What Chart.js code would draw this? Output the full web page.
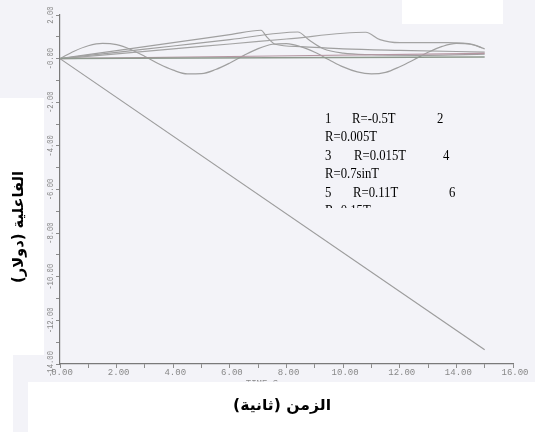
<!DOCTYPE html>
<html><head><meta charset="utf-8">
<script src="https://cdn.jsdelivr.net/npm/chart.js@4/dist/chart.umd.min.js"></script>
<style>html,body{margin:0;padding:0;background:#fff}canvas{display:block}</style>
</head><body><canvas id="c" width="535" height="432"></canvas>
<script>
// ---- tick labels ----
const xTickValues = [0, 2, 4, 6, 8, 10, 12, 14, 16];
const xTickLabels = ["0.00", "2.00", "4.00", "6.00", "8.00", "10.00", "12.00", "14.00", "16.00"];
const yTickValues = [2, 0, -2, -4, -6, -8, -10, -12, -14];
const yTickLabels = ["2.00", "-0.00", "-2.00", "-4.00", "-6.00", "-8.00", "-10.00", "-12.00", "-14.00"];

// ---- series (time T, value R) ----
const t1 = [0, 15];
const r1 = [0, -13.35];

const tSin = [0, 0.5, 1, 1.5, 2, 2.5, 3, 3.5, 4, 4.5, 5, 5.5, 6, 6.5, 7, 7.5, 8, 8.5, 9, 9.5, 10, 10.5, 11, 11.5, 12, 12.5, 13, 13.5, 14, 14.5, 15];
const rSin = [0, 0.34, 0.59, 0.70, 0.64, 0.42, 0.10, -0.25, -0.53, -0.70, -0.69, -0.50, -0.20, 0.15, 0.46, 0.66, 0.69, 0.55, 0.29, -0.05, -0.38, -0.61, -0.70, -0.63, -0.37, -0.05, 0.29, 0.56, 0.70, 0.66, 0.45];

const tA = [0, 2, 4, 6, 7.1, 7.3, 7.6, 8.5, 10, 12, 15];
const rA = [0, 0.37, 0.73, 1.10, 1.30, 1.00, 0.66, 0.55, 0.45, 0.38, 0.30];

const tB = [0, 2, 4, 6, 8.4, 8.8, 9.3, 10, 11, 13, 15];
const rB = [0, 0.29, 0.58, 0.87, 1.22, 0.85, 0.45, 0.25, 0.18, 0.15, 0.20];

const tC = [0, 2, 4, 6, 8, 10.8, 11.3, 12.0, 13.7, 14.6, 14.9];
const rC = [0, 0.22, 0.45, 0.67, 0.90, 1.21, 0.87, 0.73, 0.73, 0.64, 0.50];

const tD = [0, 15];
const rD = [0, 0.08];

const tE = [0, 15];
const rE = [0, 0.24];

// ---- legend text ----
const legendLines = [
  [["1", 325], ["R=-0.5T", 352], ["2", 437]],
  [["R=0.005T", 325]],
  [["3", 325], ["R=0.015T", 354], ["4", 443]],
  [["R=0.7sinT", 325]],
  [["5", 325], ["R=0.11T", 353], ["6", 449]],
  [["R=0.15T", 325]]
];
const xTitle = "الزمن (ثانية)";
const yTitle = "الفاعلية (دولار)";

function pts(t, r) { return t.map((v, i) => ({ x: v, y: r[i] })); }

const lineStyle = (color, w) => ({ borderColor: color, borderWidth: w, pointRadius: 0, fill: false, tension: 0.35, cubicInterpolationMode: 'monotone' });

const decor = {
  id: 'decor',
  beforeDraw(chart) {
    const ctx = chart.ctx;
    ctx.save();
    ctx.fillStyle = '#f3f3f8';
    ctx.fillRect(0, 0, 535, 432);
    ctx.fillStyle = '#ffffff';
    ctx.fillRect(0, 98, 44, 257);
    ctx.fillRect(0, 355, 13, 77);
    ctx.fillRect(28, 382, 507, 50);
    ctx.fillRect(402, 0, 101, 24);
    ctx.restore();
  },
  afterDraw(chart) {
    const ctx = chart.ctx;
    const xs = chart.scales.x, ys = chart.scales.y;
    ctx.save();
    // "TIME S" partly hidden
    ctx.save();
    ctx.beginPath(); ctx.rect(200, 370, 120, 11.5); ctx.clip();
    ctx.fillStyle = '#8a8a8a';
    ctx.font = '9px "Liberation Mono"';
    ctx.textAlign = 'center'; ctx.textBaseline = 'middle';
    ctx.fillText('TIME S', 262, 384);
    ctx.restore();
    // x tick labels
    ctx.fillStyle = '#888888';
    ctx.font = '9px "Liberation Mono"';
    ctx.textAlign = 'center'; ctx.textBaseline = 'middle';
    xTickValues.forEach((v, i) => ctx.fillText(xTickLabels[i], xs.getPixelForValue(v) + 2, 373));
    // y tick labels rotated
    yTickValues.forEach((v, i) => {
      ctx.save();
      ctx.translate(51, ys.getPixelForValue(v));
      ctx.rotate(-Math.PI / 2);
      ctx.scale(0.8, 1);
      ctx.fillText(yTickLabels[i], 0, 0);
      ctx.restore();
    });
    // legend text
    ctx.fillStyle = '#000';
    ctx.font = '15px "Liberation Serif"';
    ctx.textAlign = 'left'; ctx.textBaseline = 'alphabetic';
    const sx = 52 / ctx.measureText("R=0.005T").width;
    legendLines.forEach((line, li) => {
      const base = 123 + li * 18.4;
      ctx.save();
      if (li === 5) { ctx.beginPath(); ctx.rect(300, 190, 200, 18); ctx.clip(); }
      line.forEach(([s, x]) => {
        ctx.save(); ctx.translate(x, base); ctx.scale(sx, 1); ctx.fillText(s, 0, 0); ctx.restore();
      });
      ctx.restore();
    });
    // axis titles
    ctx.font = 'bold 15px "DejaVu Sans"';
    ctx.textAlign = 'center'; ctx.textBaseline = 'middle';
    ctx.save();
    const wx = ctx.measureText(xTitle).width;
    ctx.translate(282, 406); ctx.scale(98 / wx, 1);
    ctx.fillText(xTitle, 0, 0);
    ctx.restore();
    ctx.save();
    const wy = ctx.measureText(yTitle).width;
    ctx.translate(19, 227); ctx.rotate(-Math.PI / 2); ctx.scale(112 / wy, 1);
    ctx.fillText(yTitle, 0, 0);
    ctx.restore();
    ctx.restore();
  }
};

new Chart(document.getElementById('c'), {
  type: 'line',
  data: {
    datasets: [
      { data: pts(t1, r1), ...lineStyle('#9c9c9c', 1.2), tension: 0 },
      { data: pts(tD, rD), ...lineStyle('#8e9a8e', 1.5), tension: 0 },
      { data: pts(tE, rE), ...lineStyle('#b596a2', 1.2), tension: 0 },
      { data: pts(tSin, rSin), ...lineStyle('#a0a0a0', 1.2) },
      { data: pts(tC, rC), ...lineStyle('#a4a4a4', 1.2) },
      { data: pts(tB, rB), ...lineStyle('#a0a0a0', 1.2) },
      { data: pts(tA, rA), ...lineStyle('#a0a0a0', 1.2) }
    ]
  },
  options: {
    responsive: false,
    animation: false,
    layout: { padding: { left: 0, top: 15, right: 22, bottom: 0 } },
    plugins: { legend: { display: false }, tooltip: { enabled: false } },
    scales: {
      x: {
        type: 'linear', min: 0, max: 16,
        afterFit(s) { s.height = 68; },
        ticks: { display: false, stepSize: 1 },
        grid: { drawOnChartArea: false, drawTicks: true, tickLength: 4, color: '#8c8c8c' },
        border: { display: true, color: '#7a7a7a', width: 1.2 }
      },
      y: {
        type: 'linear', min: -14, max: 2,
        afterFit(s) { s.width = 60; },
        ticks: { display: false, stepSize: 1 },
        grid: { drawOnChartArea: false, drawTicks: true, tickLength: 4, color: '#8c8c8c' },
        border: { display: true, color: '#7a7a7a', width: 1.2 }
      }
    }
  },
  plugins: [decor]
});
</script>
</body></html>
